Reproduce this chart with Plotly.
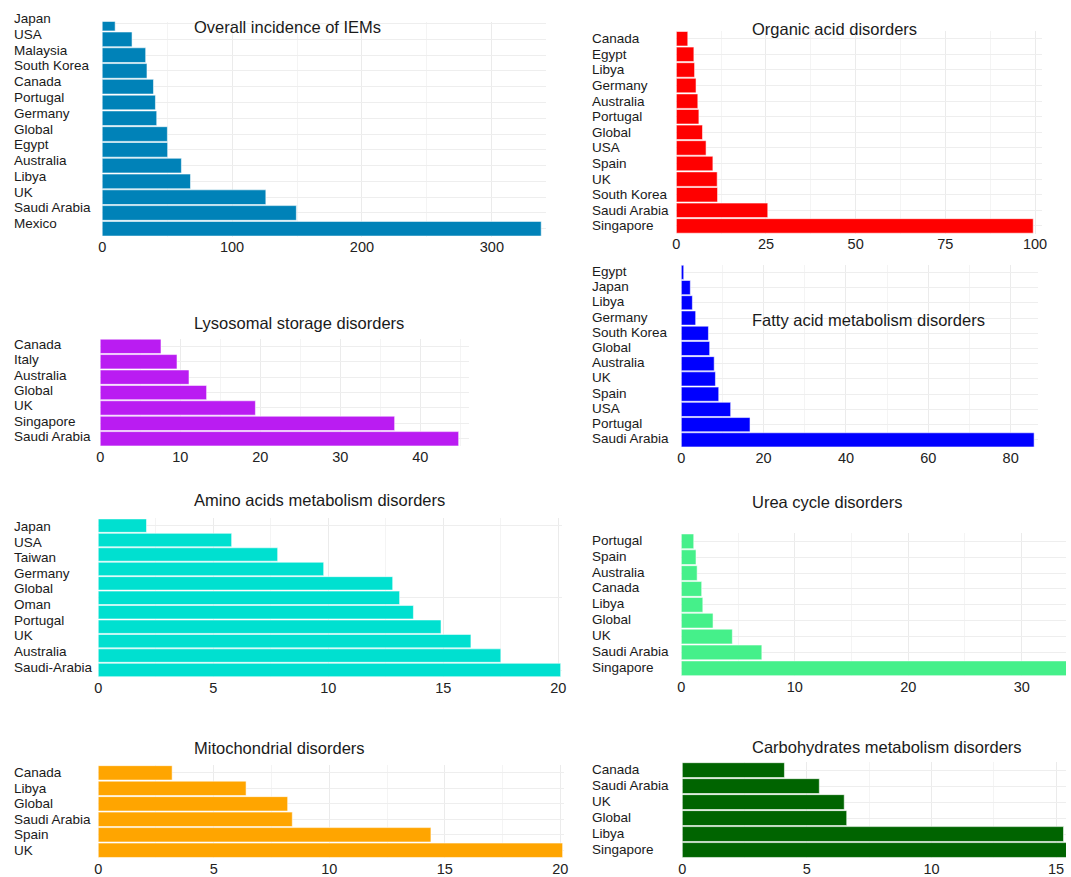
import plotly.graph_objects as go

W, H = 1071, 877

# ---------------- data ----------------
overall_countries = ["Japan", "USA", "Malaysia", "South Korea", "Canada", "Portugal", "Germany",
                     "Global", "Egypt", "Australia", "Libya", "UK", "Saudi Arabia", "Mexico"]
overall_values = [10, 23, 33.5, 34.5, 39.5, 41, 42, 50.2, 50.4, 61, 68, 126, 149.5, 338]

organic_countries = ["Canada", "Egypt", "Libya", "Germany", "Australia", "Portugal", "Global",
                     "USA", "Spain", "UK", "South Korea", "Saudi Arabia", "Singapore"]
organic_values = [3.2, 4.9, 5.1, 5.5, 6.0, 6.3, 7.3, 8.3, 10.2, 11.4, 11.5, 25.5, 99.5]

lysosomal_countries = ["Canada", "Italy", "Australia", "Global", "UK", "Singapore", "Saudi Arabia"]
lysosomal_values = [7.6, 9.6, 11.1, 13.3, 19.4, 36.8, 44.8]

fatty_countries = ["Egypt", "Japan", "Libya", "Germany", "South Korea", "Global", "Australia",
                   "UK", "Spain", "USA", "Portugal", "Saudi Arabia"]
fatty_values = [0.6, 2.2, 2.7, 3.5, 6.6, 6.9, 8.0, 8.3, 9.1, 12.0, 16.7, 85.7]

amino_labels = ["Japan", "USA", "Taiwan", "Germany", "Global", "Oman", "Portugal", "UK",
                "Australia", "Saudi-Arabia"]
amino_values = [2.1, 5.8, 7.8, 9.8, 12.8, 13.1, 13.7, 14.9, 16.2, 17.5, 20.1]

urea_countries = ["Portugal", "Spain", "Australia", "Canada", "Libya", "Global", "UK",
                  "Saudi Arabia", "Singapore"]
urea_values = [1.1, 1.3, 1.4, 1.8, 1.9, 2.8, 4.5, 7.1, 36]

mito_countries = ["Canada", "Libya", "Global", "Saudi Arabia", "Spain", "UK"]
mito_values = [3.2, 6.4, 8.2, 8.4, 14.4, 20.1]

carbs_countries = ["Canada", "Saudi Arabia", "UK", "Global", "Libya", "Singapore"]
carbs_values = [4.1, 5.5, 6.5, 6.6, 15.3, 16]

# ---------------- panel layout (pixel rectangles) ----------------
panels = [
    dict(title="Overall incidence of IEMs", cats=overall_countries, vals=overall_values,
         color="#0082B8", rect=(99, 547, 21.7, 236.9), ytop=-0.12, xmax=342, dtick=100,
         label_x=8, title_xy=(190, 27), yshift=5),
    dict(title="Organic acid disorders", cats=organic_countries, vals=organic_values,
         color="#FF0000", rect=(678, 1047, 31, 234), xmax=102, dtick=25,
         label_x=591, title_xy=(752, 29), yshift=0),
    dict(title="Lysosomal storage disorders", cats=lysosomal_countries, vals=lysosomal_values,
         color="#BA1CF2", rect=(97, 469, 339, 447), xmax=46.1, dtick=10,
         label_x=8, title_xy=(190, 323), yshift=2),
    dict(title="Fatty acid metabolism disorders", cats=fatty_countries, vals=fatty_values,
         color="#0000FF", rect=(683, 1043, 265, 448), xmax=86.7, dtick=20,
         label_x=591, title_xy=(752, 320), yshift=1),
    dict(title="Amino acids metabolism disorders", cats=None, labels=amino_labels, vals=amino_values,
         color="#00E0D0", rect=(95, 563, 519, 678), xmax=20.17, dtick=5,
         label_x=8, title_xy=(190, 501), yshift=0, label_span=(527, 668)),
    dict(title="Urea cycle disorders", cats=urea_countries, vals=urea_values,
         color="#45F08A", rect=(683, 1071, 534, 677), xmax=33.9, dtick=10,
         label_x=591, title_xy=(752, 503), yshift=1),
    dict(title="Mitochondrial disorders", cats=mito_countries, vals=mito_values,
         color="#FFA500", rect=(95, 565, 766, 859), xmax=20.17, dtick=5,
         label_x=8, title_xy=(190, 749), yshift=0),
    dict(title="Carbohydrates metabolism disorders", cats=carbs_countries, vals=carbs_values,
         color="#006400", rect=(684, 1071, 763, 859), xmax=15.4, dtick=5,
         label_x=591, title_xy=(752, 748), yshift=1),
]

FONT = "Liberation Sans, Arial, sans-serif"
TEXT = "#1a1a1a"

fig = go.Figure()
annotations = []
layout_axes = {}

for i, p in enumerate(panels, start=1):
    xa = "x" if i == 1 else f"x{i}"
    ya = "y" if i == 1 else f"y{i}"
    n = len(p["vals"])
    ycats = p["cats"] if p["cats"] is not None else list(range(n))
    fig.add_trace(go.Bar(
        x=p["vals"], y=ycats, orientation="h", xaxis=xa, yaxis=ya,
        marker=dict(color=p["color"], line=dict(color="rgba(255,255,255,0.55)", width=1)),
        showlegend=False, hoverinfo="x+y",
    ))
    x0, x1, y0, y1 = p["rect"]
    xkey = "xaxis" if i == 1 else f"xaxis{i}"
    ykey = "yaxis" if i == 1 else f"yaxis{i}"
    layout_axes[xkey] = dict(
        domain=[x0 / W, min(x1 / W, 1)], anchor=ya, range=[0, p["xmax"]],
        tick0=0, dtick=p["dtick"], showgrid=True, gridcolor="#EBEBEB", gridwidth=1,
        minor=dict(dtick=p["dtick"] / 2, tick0=0, showgrid=True, gridcolor="#F4F4F4", gridwidth=1),
        zeroline=False, showline=False, ticks="", ticklen=0,
        tickfont=dict(family=FONT, size=14.5, color="#222222"), fixedrange=True,
    )
    ydict = dict(
        domain=[1 - y1 / H, 1 - y0 / H], anchor=xa, showticklabels=False,
        showgrid=True, gridcolor="#EEEEEE", gridwidth=1, zeroline=False, showline=False,
        ticks="", fixedrange=True, range=[n - 0.5, p.get("ytop", -0.5)],
    )
    if p["cats"] is not None:
        ydict["type"] = "category"
        ydict["categoryorder"] = "array"
        ydict["categoryarray"] = p["cats"]
    layout_axes[ykey] = ydict

    # left-aligned category labels
    if p["cats"] is not None:
        for c in p["cats"]:
            annotations.append(dict(
                text=c, xref="paper", x=p["label_x"] / W, yref=ya, y=c,
                xanchor="left", yanchor="middle", showarrow=False, yshift=p["yshift"],
                font=dict(family=FONT, size=13.5, color=TEXT),
            ))
    else:
        labs = p["labels"]
        s0, s1 = p["label_span"]
        for j, lab in enumerate(labs):
            py = s0 + j * (s1 - s0) / (len(labs) - 1)
            annotations.append(dict(
                text=lab, xref="paper", x=p["label_x"] / W, yref="paper", y=1 - py / H,
                xanchor="left", yanchor="middle", showarrow=False,
                font=dict(family=FONT, size=13.5, color=TEXT),
            ))

    tx, ty = p["title_xy"]
    annotations.append(dict(
        text=p["title"], xref="paper", yref="paper", x=tx / W, y=1 - ty / H,
        xanchor="left", yanchor="middle", showarrow=False,
        font=dict(family=FONT, size=16.5, color=TEXT),
    ))

fig.update_layout(
    width=W, height=H, margin=dict(l=0, r=0, t=0, b=0),
    paper_bgcolor="white", plot_bgcolor="white",
    bargap=0.07, annotations=annotations,
    font=dict(family=FONT, color=TEXT),
    **layout_axes,
)

fig.write_html(
    "out.html",
    config={"displayModeBar": False},
    post_script="document.body.style.margin='0px'; document.body.style.overflow='hidden';",
)
